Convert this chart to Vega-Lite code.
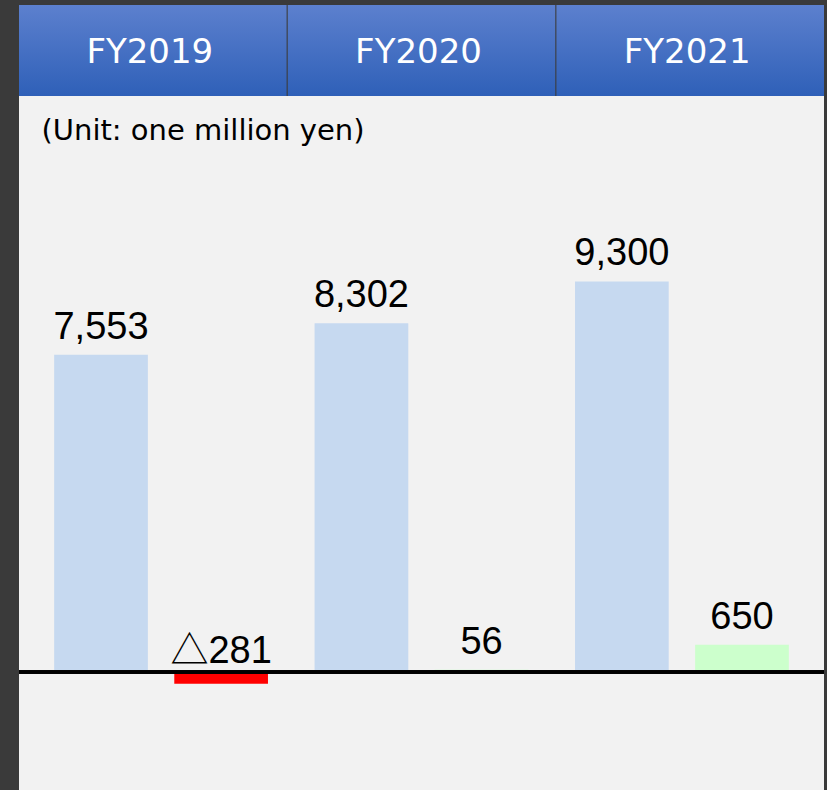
{
  "$schema": "https://vega.github.io/schema/vega-lite/v6.json",
  "padding": {"left": 17, "top": 5, "right": 5, "bottom": 0},
  "background": "#3a3a3a",
  "spacing": 0,
  "config": {
    "view": {"stroke": null},
    "font": "DejaVu Sans",
    "concat": {"spacing": 0}
  },
  "datasets": {
    "results": [
      {"year": "FY2019", "measure": "Sales", "value": 7553, "label": "7,553"},
      {"year": "FY2019", "measure": "Profit", "value": -281, "label": "△281"},
      {"year": "FY2020", "measure": "Sales", "value": 8302, "label": "8,302"},
      {"year": "FY2020", "measure": "Profit", "value": 56, "label": "56"},
      {"year": "FY2021", "measure": "Sales", "value": 9300, "label": "9,300"},
      {"year": "FY2021", "measure": "Profit", "value": 650, "label": "650"}
    ],
    "years": [
      {"year": "FY2019"},
      {"year": "FY2020"},
      {"year": "FY2021"}
    ]
  },
  "vconcat": [
    {
      "width": 805,
      "height": 91,
      "data": {"name": "years"},
      "layer": [
        {
          "mark": {
            "type": "rect",
            "color": {
              "gradient": "linear",
              "x1": 0, "y1": 0, "x2": 0, "y2": 1,
              "stops": [
                {"offset": 0, "color": "#5c80ce"},
                {"offset": 1, "color": "#2f60b8"}
              ]
            }
          },
          "encoding": {
            "x": {"field": "year", "type": "nominal", "axis": null, "scale": {"paddingInner": 0.004, "paddingOuter": 0}}
          }
        },
        {
          "mark": {"type": "text", "color": "white", "fontSize": 34, "font": "DejaVu Sans", "baseline": "middle", "dy": 2, "dx": -3},
          "encoding": {
            "x": {"field": "year", "type": "nominal", "axis": null},
            "text": {"field": "year"}
          }
        }
      ]
    },
    {
      "width": 805,
      "height": 694,
      "data": {"name": "results"},
      "view": {"fill": "#f2f2f2", "stroke": null},
      "title": {
        "text": "(Unit: one million yen)",
        "anchor": "start",
        "orient": "top",
        "offset": -50,
        "dx": 24,
        "baseline": "top",
        "fontSize": 29,
        "font": "DejaVu Sans",
        "fontWeight": "normal",
        "color": "black"
      },
      "layer": [
        {
          "mark": {"type": "bar"},
          "encoding": {
            "x": {"field": "year", "type": "nominal", "axis": null, "scale": {"paddingInner": 0.179, "paddingOuter": 0.135}},
            "xOffset": {"field": "measure", "type": "nominal", "sort": ["Sales", "Profit"], "scale": {"paddingInner": 0.22, "paddingOuter": 0}},
            "y": {"field": "value", "type": "quantitative", "axis": null, "scale": {"domain": [-2810, 13714], "nice": false, "zero": true}},
            "color": {
              "condition": {"test": "datum.value < 0", "value": "#ff0000"},
              "field": "measure",
              "type": "nominal",
              "legend": null,
              "scale": {"domain": ["Sales", "Profit"], "range": ["#c6d9f0", "#ccffcc"]}
            }
          }
        },
        {
          "mark": {"type": "rule", "color": "black", "strokeWidth": 3},
          "encoding": {
            "y": {"datum": 0, "type": "quantitative"}
          }
        },
        {
          "transform": [{"filter": "datum.value >= 0"}],
          "mark": {"type": "text", "fontSize": 38, "font": "Liberation Sans, Noto Sans CJK JP", "color": "black", "baseline": "alphabetic", "dy": -16},
          "encoding": {
            "x": {"field": "year", "type": "nominal", "axis": null},
            "xOffset": {"field": "measure", "type": "nominal", "sort": ["Sales", "Profit"]},
            "y": {"field": "value", "type": "quantitative"},
            "text": {"field": "label"}
          }
        },
        {
          "transform": [{"filter": "datum.value < 0"}],
          "mark": {"type": "text", "fontSize": 38, "font": "Liberation Sans, Noto Sans CJK JP", "color": "black", "baseline": "alphabetic", "dy": -9},
          "encoding": {
            "x": {"field": "year", "type": "nominal", "axis": null},
            "xOffset": {"field": "measure", "type": "nominal", "sort": ["Sales", "Profit"]},
            "y": {"datum": 0, "type": "quantitative"},
            "text": {"field": "label"}
          }
        }
      ]
    }
  ]
}
